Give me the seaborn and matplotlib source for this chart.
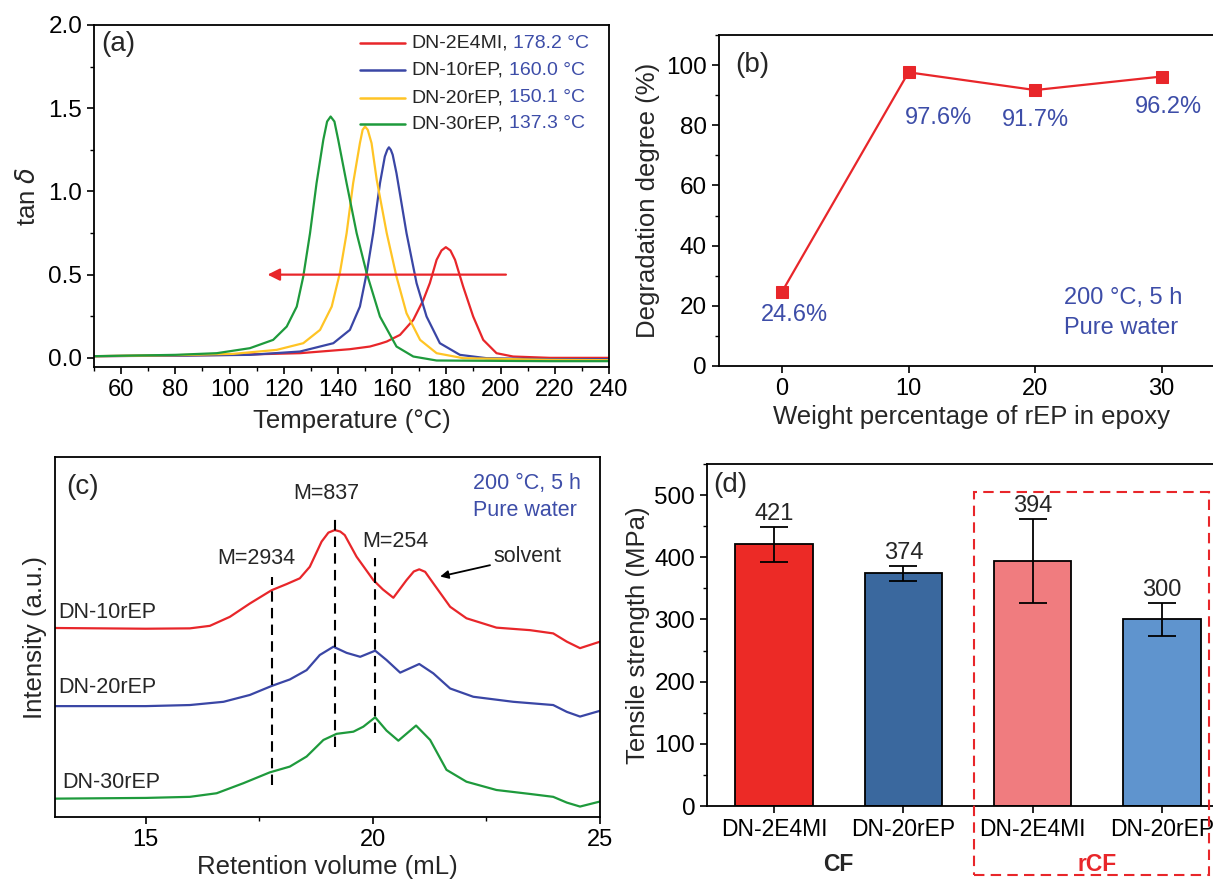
import matplotlib
matplotlib.use("Agg")
import matplotlib.pyplot as plt
import seaborn as sns
import pandas as pd
from matplotlib.ticker import AutoMinorLocator, MultipleLocator
from matplotlib.patches import Rectangle

# ---- data ----
# (a) DMA tan delta curves
temp_red = [50, 80, 101.3, 126.0, 144.4, 151.8, 155.5, 158.0, 162.9, 167.8, 171.5, 173.9, 176.4, 178.2,
            179.8, 181.5, 183.2, 186.2, 189.9, 193.6, 198.5, 204.6, 218.2, 240]
tan_red = [0.01, 0.014, 0.018, 0.028, 0.052, 0.068, 0.085, 0.098, 0.138, 0.228, 0.348, 0.449, 0.589, 0.645,
           0.665, 0.645, 0.589, 0.428, 0.248, 0.108, 0.028, 0.008, 0.0, 0.0]
temp_blue = [50, 80, 107.5, 126.0, 138.3, 144.4, 148.1, 150.6, 153.0, 155.5, 157.3, 158.2, 158.8, 159.5, 160.2,
             161.6, 165.3, 169.0, 172.7, 177.6, 185.0, 194.8, 218.2, 240]
tan_blue = [0.01, 0.013, 0.018, 0.038, 0.088, 0.168, 0.308, 0.509, 0.749, 1.049, 1.21, 1.25, 1.265, 1.25, 1.22,
            1.109, 0.749, 0.449, 0.248, 0.088, 0.018, -0.002, -0.008, -0.008]
temp_yellow = [50, 80, 101.4, 117.4, 127.2, 133.4, 137.7, 140.7, 143.2, 145.6, 148.1, 149.1, 150.0, 151.0,
               152.4, 154.3, 158.0, 161.6, 165.3, 170.3, 176.4, 186.2, 218.2, 240]
tan_yellow = [0.01, 0.016, 0.024, 0.048, 0.088, 0.168, 0.308, 0.509, 0.749, 1.049, 1.29, 1.37, 1.39, 1.37,
              1.29, 1.07, 0.749, 0.488, 0.268, 0.108, 0.028, -0.002, -0.012, -0.014]
temp_green = [50, 80, 95.3, 107.5, 116.1, 121.1, 124.8, 127.2, 129.7, 132.1, 134.6, 136.0, 137.3, 138.7,
              140.1, 143.2, 146.9, 150.6, 155.5, 161.6, 167.8, 176.4, 218, 240]
tan_green = [0.01, 0.018, 0.028, 0.058, 0.108, 0.188, 0.308, 0.488, 0.749, 1.049, 1.31, 1.42, 1.45, 1.42,
             1.31, 1.049, 0.749, 0.509, 0.248, 0.068, 0.008, -0.016, -0.02, -0.02]
samples_a = ["DN-2E4MI", "DN-10rEP", "DN-20rEP", "DN-30rEP"]
tg_labels = ["178.2 °C", "160.0 °C", "150.1 °C", "137.3 °C"]

# (b) degradation degree
rep_wt = [0, 10, 20, 30]
degradation = [24.6, 97.6, 91.7, 96.2]

# (c) GPC traces (offset, arbitrary units)
vol_red = [13, 15.0, 15.97, 16.41, 16.85, 17.29, 17.77, 18.1, 18.39, 18.61, 18.87, 19.02, 19.16, 19.28, 19.38,
           19.64, 20.01, 20.22, 20.45, 20.74, 20.9, 21.02, 21.15, 21.33, 21.7, 22.06, 22.72, 23.46, 23.97,
           24.27, 24.56, 25]
int_red = [52.5, 52.3, 52.4, 53.1, 55.6, 59.3, 63.0, 64.7, 66.3, 69.5, 76.5, 79.0, 79.7, 79.3, 78.3,
           72.3, 65.8, 63.2, 60.9, 65.8, 68.2, 68.8, 68.1, 64.9, 58.4, 55.2, 52.6, 51.9, 51.0,
           48.7, 46.9, 48.7]
vol_blue = [13, 15.0, 15.97, 16.71, 17.29, 17.77, 18.17, 18.54, 18.83, 19.13, 19.42, 19.72, 20.05, 20.3,
            20.6, 21.02, 21.33, 21.7, 22.21, 23.09, 23.97, 24.27, 24.56, 25]
int_blue = [30.8, 30.8, 31.1, 32.0, 33.9, 36.4, 38.2, 40.8, 45.0, 47.3, 45.6, 44.5, 46.2, 43.6,
            40.1, 42.5, 39.9, 35.7, 33.4, 32.0, 31.1, 29.2, 27.9, 29.5]
vol_green = [13, 15.0, 15.97, 16.56, 17.15, 17.73, 18.17, 18.54, 18.91, 19.2, 19.57, 19.79, 20.05, 20.3,
             20.56, 20.95, 21.26, 21.62, 22.06, 22.72, 23.46, 23.97, 24.27, 24.56, 25]
int_green = [5.1, 5.3, 5.6, 6.6, 9.4, 12.4, 14.0, 16.8, 21.4, 23.1, 23.7, 25.1, 27.7, 24.0,
             21.2, 25.4, 21.4, 13.1, 9.8, 7.5, 6.4, 5.6, 4.0, 2.9, 4.3]
mw_labels = ["M=2934", "M=837", "M=254"]
mw_vol = [17.77, 19.16, 20.05]
mw_ymin = [8.9, 19.5, 23.2]
mw_ymax = [66.8, 83.3, 71.9]

# (d) tensile strength
fiber = ["CF", "CF", "rCF", "rCF"]
system = ["DN-2E4MI", "DN-20rEP", "DN-2E4MI", "DN-20rEP"]
strength = [421, 374, 394, 300]
strength_err = [28, 12, 67, 27]

RED = "#E8262A"
BLUE = "#3A46A5"
YELLOW = "#FFC425"
GREEN = "#1E9A3C"
TXT_BLUE = "#3D4DA8"

sns.set_theme(style="ticks")
plt.rcParams["font.family"] = ["Liberation Sans", "DejaVu Sans"]
plt.rcParams["axes.linewidth"] = 1.3
plt.rcParams["xtick.major.width"] = 1.2
plt.rcParams["ytick.major.width"] = 1.2
plt.rcParams["xtick.minor.width"] = 1.0
plt.rcParams["ytick.minor.width"] = 1.0
plt.rcParams["xtick.major.size"] = 5
plt.rcParams["ytick.major.size"] = 5
plt.rcParams["xtick.minor.size"] = 3
plt.rcParams["ytick.minor.size"] = 3
plt.rcParams["xtick.labelsize"] = 17
plt.rcParams["ytick.labelsize"] = 17.5
plt.rcParams["axes.labelsize"] = 18.5
plt.rcParams["axes.edgecolor"] = "black"
plt.rcParams["xtick.color"] = "black"
plt.rcParams["ytick.color"] = "black"
plt.rcParams["lines.solid_joinstyle"] = "round"

W, H = 1213, 880
fig = plt.figure(figsize=(W / 100, H / 100), dpi=100)


def px_axes(left, top, right, bottom):
    return fig.add_axes([left / W, 1 - bottom / H, (right - left) / W, (bottom - top) / H])


# ---------- (a) ----------
ax = px_axes(94, 25, 609, 367)
curves_a = [(temp_red, tan_red, RED), (temp_blue, tan_blue, BLUE),
            (temp_yellow, tan_yellow, YELLOW), (temp_green, tan_green, GREEN)]
for (tx, ty, c) in curves_a:
    sns.lineplot(x=tx, y=ty, color=c, lw=1.6, ax=ax, sort=False)
ax.set_xlim(50, 240)
ax.set_ylim(-0.055, 2.0)
ax.xaxis.set_major_locator(MultipleLocator(20))
ax.xaxis.set_minor_locator(AutoMinorLocator(2))
ax.yaxis.set_major_locator(MultipleLocator(0.5))
ax.yaxis.set_minor_locator(AutoMinorLocator(2))
ax.set_xlabel("Temperature (°C)", labelpad=6)
ax.set_ylabel(r"tan $\delta$", labelpad=6)
ax.text(0.015, 0.945, "(a)", transform=ax.transAxes, fontsize=20, va="center")
ax.annotate("", xy=(113, 0.5), xytext=(203, 0.5),
            arrowprops=dict(arrowstyle="-|>", color=RED, lw=1.6, mutation_scale=18))
rows = [0.947, 0.868, 0.787, 0.711]
for name, tg, (_, _, c), yy in zip(samples_a, tg_labels, curves_a, rows):
    ax.plot([0.517, 0.604], [yy, yy], color=c, lw=1.8, transform=ax.transAxes)
    t = ax.text(0.616, yy, name + ",", transform=ax.transAxes, fontsize=14, va="center")
    ax.annotate(tg, xy=(1, 0.5), xycoords=t, xytext=(4, 0), textcoords="offset points",
                fontsize=14, va="center", color=TXT_BLUE)

# ---------- (b) ----------
ax = px_axes(718.6, 35, 1225, 366)
sns.lineplot(x=rep_wt, y=degradation, color=RED, marker="s", markersize=9,
             markeredgecolor=RED, lw=1.6, ax=ax)
ax.set_xlim(-5, 35)
ax.set_ylim(0, 110)
ax.set_xticks(rep_wt)
ax.yaxis.set_major_locator(MultipleLocator(20))
ax.yaxis.set_minor_locator(AutoMinorLocator(2))
ax.set_xlabel("Weight percentage of rEP in epoxy", labelpad=4)
ax.set_ylabel("Degradation degree (%)", labelpad=4)
ax.text(-3.7, 100, "(b)", fontsize=20, va="center")
lab_x = [1.0, 12.4, 20.0, 30.5]
lab_y = [17, 82.4, 81.7, 86.2]
for x, y, v in zip(lab_x, lab_y, degradation):
    ax.text(x, y, f"{v}%", color=TXT_BLUE, fontsize=17, ha="center", va="center")
ax.text(22.3, 22.6, "200 °C, 5 h", color=TXT_BLUE, fontsize=17, va="center")
ax.text(22.3, 12.6, "Pure water", color=TXT_BLUE, fontsize=17, va="center")

# ---------- (c) ----------
ax = px_axes(55, 457, 600, 817)
for vx, vy, c in [(vol_red, int_red, RED), (vol_blue, int_blue, BLUE), (vol_green, int_green, GREEN)]:
    sns.lineplot(x=vx, y=vy, color=c, lw=1.6, ax=ax)
ax.set_xlim(13, 25)
ax.set_ylim(0, 100)
ax.set_yticks([])
ax.xaxis.set_major_locator(MultipleLocator(5))
ax.xaxis.set_minor_locator(AutoMinorLocator(2))
ax.set_xlabel("Retention volume (mL)", labelpad=3)
ax.set_ylabel("Intensity (a.u.)", labelpad=6)
ax.vlines(mw_vol, mw_ymin, mw_ymax, colors="black", linestyles=(0, (5, 3)), lw=1.5)
lab_pos = [(17.44, 71.8), (18.97, 89.8), (20.49, 76.4)]
for lab, (x, y) in zip(mw_labels, lab_pos):
    ax.text(x, y, lab, fontsize=15.5, ha="center", va="center")
ax.annotate("solvent", xy=(21.48, 66.8), xytext=(22.65, 72.3), fontsize=15.5, va="center",
            arrowprops=dict(arrowstyle="-|>", color="black", lw=1.3, mutation_scale=12,
                            shrinkA=0, shrinkB=0))
ax.text(13.07, 56.7, "DN-10rEP", fontsize=15.5, va="center")
ax.text(13.07, 36.1, "DN-20rEP", fontsize=15.5, va="center")
ax.text(13.15, 9.7, "DN-30rEP", fontsize=15.5, va="center")
ax.text(13.25, 91.7, "(c)", fontsize=20, va="center")
ax.text(22.2, 92.6, "200 °C, 5 h", color=TXT_BLUE, fontsize=15.5, va="center")
ax.text(22.2, 85.2, "Pure water", color=TXT_BLUE, fontsize=15.5, va="center")

# ---------- (d) ----------
ax = px_axes(707, 464, 1229, 806)
df = pd.DataFrame({"key": [f + " " + s for f, s in zip(fiber, system)], "strength": strength})
bar_colors = ["#EC2A26", "#3A689E", "#F07C7F", "#5F94CE"]
sns.barplot(data=df, x="key", y="strength", hue="key", palette=bar_colors, legend=False,
            width=0.6, edgecolor="black", linewidth=1.3, saturation=1, ax=ax)
ax.errorbar(range(len(strength)), strength, yerr=strength_err, fmt="none", ecolor="black",
            elinewidth=1.3, capsize=10, capthick=1.3)
ax.set_xlim(-0.52, 3.52)
ax.set_ylim(0, 550)
ax.set_xticks(range(len(system)))
ax.set_xticklabels(system, fontsize=16.5)
ax.yaxis.set_major_locator(MultipleLocator(100))
ax.yaxis.set_minor_locator(AutoMinorLocator(2))
ax.set_xlabel("")
ax.set_ylabel("Tensile strength (MPa)", labelpad=3)
for i, (v, e) in enumerate(zip(strength, strength_err)):
    ax.text(i, v + e + 3, str(v), fontsize=17, ha="center", va="bottom")
ax.text(-0.47, 517, "(d)", fontsize=20, va="center")
ax.text(0.5, -0.17, "CF", transform=ax.get_xaxis_transform(), fontsize=16.5,
        fontweight="bold", ha="center", va="center")
ax.text(2.5, -0.17, "rCF", transform=ax.get_xaxis_transform(), fontsize=16.5,
        fontweight="bold", ha="center", va="center", color=RED)
fig.patches.append(Rectangle((974 / W, 1 - 875 / H), (1209 - 974) / W, (875 - 492) / H,
                             transform=fig.transFigure, fill=False, edgecolor=RED,
                             lw=1.5, ls=(0, (5, 3))))

fig.savefig("out.png", dpi=100)
